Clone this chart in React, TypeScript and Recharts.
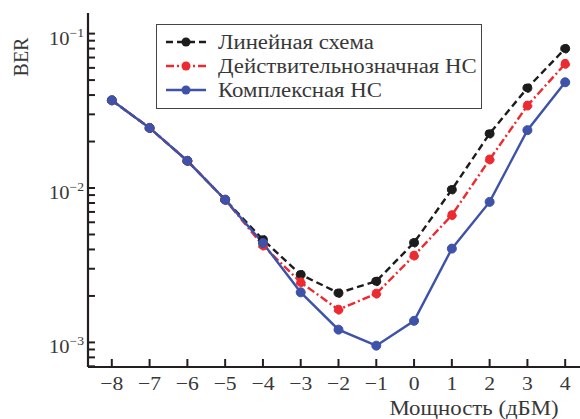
import React from "react";
import { Legend, Line, LineChart, XAxis, YAxis } from "recharts";

const powers = [-8, -7, -6, -5, -4, -3, -2, -1, 0, 1, 2, 3, 4];
const linearBer = [0.037, 0.0245, 0.015, 0.0084, 0.00463, 0.00275, 0.00209, 0.00249, 0.00443, 0.00977, 0.0225, 0.0445, 0.08];
const realNnBer = [0.037, 0.0245, 0.015, 0.0084, 0.00424, 0.00245, 0.00163, 0.00207, 0.00365, 0.00667, 0.0153, 0.0342, 0.0637];
const complexNnBer = [0.037, 0.0245, 0.015, 0.0084, 0.0044, 0.00211, 0.00121, 0.000953, 0.00138, 0.00405, 0.00813, 0.0237, 0.0484];

const xTicks = [-8, -7, -6, -5, -4, -3, -2, -1, 0, 1, 2, 3, 4];
const yTicks = [
  0.0007, 0.0008, 0.0009, 0.001,
  0.002, 0.003, 0.004, 0.005, 0.006, 0.007, 0.008, 0.009, 0.01,
  0.02, 0.03, 0.04, 0.05, 0.06, 0.07, 0.08, 0.09, 0.1,
];

const series = [
  { key: "lin", name: "Линейная схема", color: "#1c1c1c", dash: "7 4" },
  { key: "real", name: "Действительнозначная НС", color: "#ec2a2f", dash: "8 3 2 3" },
  { key: "cplx", name: "Комплексная НС", color: "#3d52a8", dash: undefined },
];

const rows = powers.map((x, i) => ({
  x,
  lin: linearBer[i],
  real: realNnBer[i],
  cplx: complexNnBer[i],
}));

const AXIS = "#231f20";
const TEXT = "#383838";
const FONT = "'Liberation Serif', 'DejaVu Serif', serif";
// the source figure is stretched a bit horizontally
const STRETCH = 1.14;

function YTick(props: any) {
  const { x, y, payload } = props;
  const lg = Math.log10(payload.value);
  const exp = Math.round(lg);
  const major = Math.abs(lg - exp) < 1e-6;
  return (
    <g>
      <line x1={x} x2={x + 7} y1={y} y2={y} stroke={AXIS} strokeWidth={2} />
      {major && (
        <text
          transform={`translate(${x - 4},${y + 11}) scale(${STRETCH},1)`}
          textAnchor="end"
          fontSize={18}
          fill={TEXT}
          fontFamily={FONT}
        >
          10
          <tspan dy={-8} fontSize={12}>
            {"−" + -exp}
          </tspan>
        </text>
      )}
    </g>
  );
}

function XTick(props: any) {
  const { x, y, payload } = props;
  const v = payload.value;
  return (
    <g>
      <line x1={x} x2={x} y1={y} y2={y - 8} stroke={AXIS} strokeWidth={2} />
      <text
        transform={`translate(${x},${y + 23}) scale(${STRETCH},1)`}
        textAnchor="middle"
        fontSize={19}
        fill={TEXT}
        fontFamily={FONT}
      >
        {v < 0 ? "−" + -v : String(v)}
      </text>
    </g>
  );
}

function LegendBox() {
  return (
    <div
      style={{
        width: 324,
        border: "1px solid #444",
        background: "#fff",
        padding: "5px 0 6px 0",
        fontFamily: FONT,
        fontSize: 20,
        color: TEXT,
        textAlign: "left",
      }}
    >
      {series.map((s) => (
        <div key={s.key} style={{ display: "flex", alignItems: "center", height: 24 }}>
          <svg width={40} height={12} style={{ marginLeft: 9, marginRight: 12, flex: "none" }}>
            <line x1={0} x2={40} y1={6} y2={6} stroke={s.color} strokeWidth={2.4} strokeDasharray={s.dash} />
            <circle cx={20} cy={6} r={4.5} fill={s.color} />
          </svg>
          <span
            style={{
              display: "inline-block",
              whiteSpace: "nowrap",
              transform: `scaleX(${STRETCH})`,
              transformOrigin: "left center",
            }}
          >
            {s.name}
          </span>
        </div>
      ))}
    </div>
  );
}

export default function App() {
  return (
    <div style={{ position: "fixed", left: 0, top: 0, width: 580, height: 419, overflow: "hidden", background: "#fff" }}>
      <LineChart width={600} height={419} data={rows} margin={{ top: 13, right: 11, bottom: 22, left: 0 }}>
        <XAxis
          dataKey="x"
          type="number"
          domain={[-8.63, 4.63]}
          ticks={xTicks}
          allowDataOverflow
          height={30}
          tickSize={0}
          tickMargin={0}
          tickLine={false}
          axisLine={{ stroke: AXIS, strokeWidth: 2.2 }}
          tick={<XTick />}
        />
        <XAxis
          xAxisId="top"
          orientation="top"
          dataKey="x"
          type="number"
          domain={[-8.63, 4.63]}
          height={0}
          tick={false}
          tickLine={false}
          axisLine={{ stroke: AXIS, strokeWidth: 2.2 }}
        />
        <YAxis
          type="number"
          scale="log"
          domain={[0.000693, 0.136]}
          allowDataOverflow
          ticks={yTicks}
          interval={0}
          width={88}
          tickSize={0}
          tickMargin={0}
          tickLine={false}
          axisLine={{ stroke: AXIS, strokeWidth: 2.2 }}
          tick={<YTick />}
        />
        <Legend
          layout="vertical"
          align="center"
          verticalAlign="middle"
          content={<LegendBox />}
          wrapperStyle={{ position: "absolute", left: 156, top: 24, width: 326, margin: 0 }}
        />
        {series.map((s) => (
          <Line
            key={s.key}
            dataKey={s.key}
            name={s.name}
            stroke={s.color}
            strokeWidth={2.4}
            strokeDasharray={s.dash}
            dot={{ r: 4.5, fill: s.color, stroke: s.color, strokeWidth: 1 }}
            isAnimationActive={false}
          />
        ))}
      </LineChart>
      <div
        style={{
          position: "absolute",
          left: 21,
          top: 57,
          transform: "translate(-50%, -50%) rotate(-90deg)",
          fontFamily: FONT,
          fontSize: 20,
          color: TEXT,
          whiteSpace: "nowrap",
        }}
      >
        BER
      </div>
      <div
        style={{
          position: "absolute",
          left: 474,
          top: 408,
          transform: `translate(-50%, -50%) scaleX(${STRETCH})`,
          fontFamily: FONT,
          fontSize: 20,
          color: TEXT,
          whiteSpace: "nowrap",
        }}
      >
        Мощность (дБМ)
      </div>
    </div>
  );
}
